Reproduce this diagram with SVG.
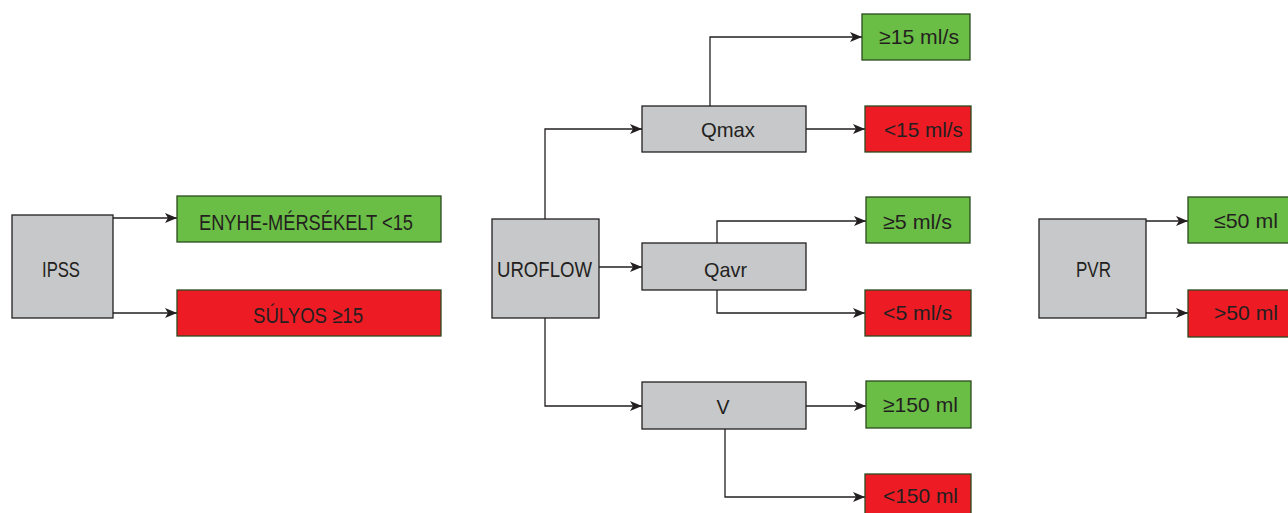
<svg xmlns="http://www.w3.org/2000/svg" width="1288" height="513" viewBox="0 0 1288 513">
  <style>
    .gray { fill: #c7c8ca; stroke: #231f20; stroke-width: 1.3; }
    .good { fill: #6abd45; stroke: #2b4a1f; stroke-width: 1.3; }
    .bad { fill: #ed1c24; stroke: #2b4a1f; stroke-width: 1.3; }
    text { font-family: "Liberation Sans", Arial, sans-serif; font-size: 21px; fill: #231f20; text-anchor: middle; }
    .big { font-size: 22px; }
    .link { fill: none; stroke: #231f20; stroke-width: 1.3; marker-end: url(#arrow); }
  </style>
  <defs>
    <marker id="arrow" markerUnits="userSpaceOnUse" markerWidth="13" markerHeight="12" refX="12" refY="6" orient="auto">
      <path d="M0,1 L12,6 L0,11 L3,6 Z" fill="#231f20"/>
    </marker>
  </defs>
  <rect width="1288" height="513" fill="#ffffff"/>

  <!-- connectors -->
  <g id="connectors">
    <path class="link" d="M113,218 H177"/>
    <path class="link" d="M113,313 H177"/>
    <path class="link" d="M545,219 V129 H642"/>
    <path class="link" d="M599,267 H642"/>
    <path class="link" d="M545,318 V406 H642"/>
    <path class="link" d="M710,106 V37 H862"/>
    <path class="link" d="M806,129 H865"/>
    <path class="link" d="M717,243 V221 H866"/>
    <path class="link" d="M717,290 V313 H865"/>
    <path class="link" d="M806,406 H866"/>
    <path class="link" d="M725,429 V497 H865"/>
    <path class="link" d="M1146,221 H1188"/>
    <path class="link" d="M1146,313 H1188"/>
  </g>

  <!-- IPSS branch -->
  <g id="ipss">
    <rect class="gray" x="12" y="215" width="101" height="103"/>
    <text class="big" x="61" y="277" textLength="38" lengthAdjust="spacingAndGlyphs">IPSS</text>
  </g>
  <g id="ipss-mild">
    <rect class="good" x="177" y="196" width="264" height="46"/>
    <text class="big" x="306" y="230" textLength="214" lengthAdjust="spacingAndGlyphs">ENYHE-MÉRSÉKELT &lt;15</text>
  </g>
  <g id="ipss-severe">
    <rect class="bad" x="177" y="290" width="264" height="46"/>
    <text class="big" x="308" y="323" textLength="110" lengthAdjust="spacingAndGlyphs">SÚLYOS ≥15</text>
  </g>

  <!-- uroflow branch -->
  <g id="uroflow">
    <rect class="gray" x="492" y="219" width="107" height="99"/>
    <text class="big" x="544.5" y="277" textLength="95" lengthAdjust="spacingAndGlyphs">UROFLOW</text>
  </g>
  <g id="qmax">
    <rect class="gray" x="642" y="106" width="164" height="46"/>
    <text x="728" y="137" textLength="54" lengthAdjust="spacingAndGlyphs">Qmax</text>
  </g>
  <g id="qavr">
    <rect class="gray" x="642" y="243" width="164" height="47"/>
    <text x="725.5" y="277" textLength="43" lengthAdjust="spacingAndGlyphs">Qavr</text>
  </g>
  <g id="volume">
    <rect class="gray" x="642" y="382" width="164" height="47"/>
    <text x="723" y="414" textLength="13" lengthAdjust="spacingAndGlyphs">V</text>
  </g>
  <g id="qmax-ok">
    <rect class="good" x="862" y="14" width="108" height="46"/>
    <text x="919" y="44" textLength="80" lengthAdjust="spacingAndGlyphs">≥15 ml/s</text>
  </g>
  <g id="qmax-low">
    <rect class="bad" x="865" y="106" width="106" height="46"/>
    <text x="923.5" y="137" textLength="79" lengthAdjust="spacingAndGlyphs">&lt;15 ml/s</text>
  </g>
  <g id="qavr-ok">
    <rect class="good" x="866" y="197" width="104" height="46"/>
    <text x="917.5" y="229" textLength="69" lengthAdjust="spacingAndGlyphs">≥5 ml/s</text>
  </g>
  <g id="qavr-low">
    <rect class="bad" x="865" y="290" width="106" height="46"/>
    <text x="917.5" y="320" textLength="69" lengthAdjust="spacingAndGlyphs">&lt;5 ml/s</text>
  </g>
  <g id="volume-ok">
    <rect class="good" x="866" y="381" width="105" height="47"/>
    <text x="920.5" y="412" textLength="75" lengthAdjust="spacingAndGlyphs">≥150 ml</text>
  </g>
  <g id="volume-low">
    <rect class="bad" x="865" y="474" width="106" height="46"/>
    <text x="920.5" y="503" textLength="75" lengthAdjust="spacingAndGlyphs">&lt;150 ml</text>
  </g>

  <!-- PVR branch -->
  <g id="pvr">
    <rect class="gray" x="1039" y="219" width="107" height="99"/>
    <text class="big" x="1093.5" y="277" textLength="35" lengthAdjust="spacingAndGlyphs">PVR</text>
  </g>
  <g id="pvr-ok">
    <rect class="good" x="1188" y="197" width="110" height="46"/>
    <text x="1246" y="228" textLength="64" lengthAdjust="spacingAndGlyphs">≤50 ml</text>
  </g>
  <g id="pvr-high">
    <rect class="bad" x="1188" y="290" width="110" height="47"/>
    <text x="1246" y="320" textLength="64" lengthAdjust="spacingAndGlyphs">&gt;50 ml</text>
  </g>
</svg>
